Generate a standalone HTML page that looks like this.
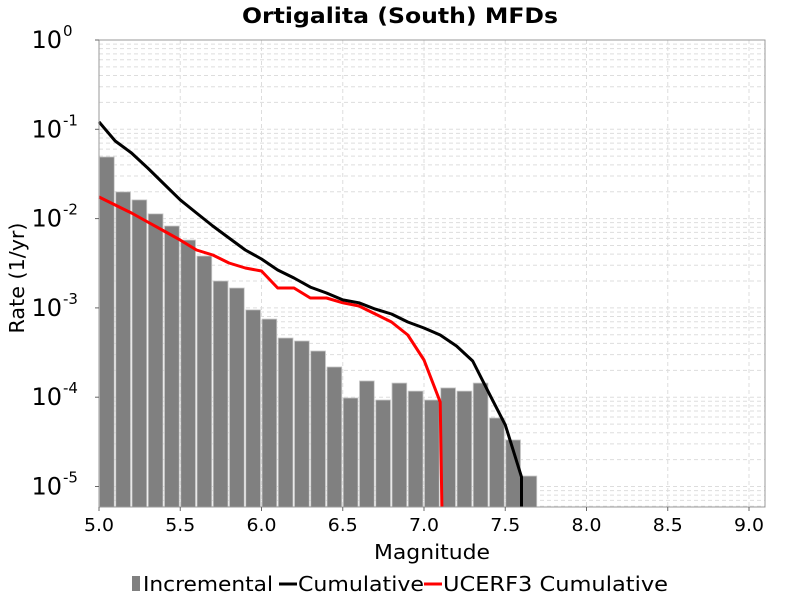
<!DOCTYPE html>
<html><head><meta charset="utf-8"><style>
html,body{margin:0;padding:0;background:#fff;}
svg{display:block;font-family:"DejaVu Sans","Liberation Sans",sans-serif;}
</style></head><body>
<svg id="chart" width="800" height="600" xmlns="http://www.w3.org/2000/svg">
<text x="400" y="23" text-anchor="middle" font-size="21" font-weight="bold" textLength="316" lengthAdjust="spacingAndGlyphs">Ortigalita (South) MFDs</text>
<g id="grid"></g>
<g id="bars"></g>
<g id="lines"></g>
<rect x="99" y="40" width="666" height="467" fill="none" stroke="#999" stroke-width="1"/>
<g id="yticks"></g>
<g id="xticks"></g>
<text x="432" y="559" text-anchor="middle" font-size="20" textLength="116" lengthAdjust="spacingAndGlyphs">Magnitude</text>
<text transform="translate(24,278) rotate(-90)" text-anchor="middle" font-size="20" textLength="111" lengthAdjust="spacingAndGlyphs">Rate (1/yr)</text>
<g>
<g><rect x="132" y="576" width="8" height="15" fill="#808080"/><text x="143" y="591" font-size="20" textLength="130" lengthAdjust="spacingAndGlyphs">Incremental</text></g>
<g><line x1="279" y1="584" x2="297" y2="584" stroke="#000" stroke-width="3"/><text x="298" y="591" font-size="20" textLength="126" lengthAdjust="spacingAndGlyphs">Cumulative</text></g>
<g><line x1="424" y1="584" x2="442" y2="584" stroke="#f00" stroke-width="3"/><text x="443" y="591" font-size="20" textLength="225" lengthAdjust="spacingAndGlyphs">UCERF3 Cumulative</text></g>
</g>
</svg>
<script>
const barMags = [5.0,5.1,5.2,5.3,5.4,5.5,5.6,5.7,5.8,5.9,6.0,6.1,6.2,6.3,6.4,6.5,6.6,6.7,6.8,6.9,7.0,7.1,7.2,7.3,7.4,7.5,7.6];
const incrementalRates = [0.049,0.0199,0.0162,0.0113,0.00826,0.00575,0.00381,0.0020,0.00167,0.00095,0.00075,0.00046,0.000426,0.000329,0.000218,0.000098,0.000152,0.000093,0.000144,0.000117,0.000093,0.000127,0.000117,0.000144,0.0000585,0.0000332,0.0000131];
const cumMags = [5.0,5.1,5.2,5.3,5.4,5.5,5.6,5.7,5.8,5.9,6.0,6.1,6.2,6.3,6.4,6.5,6.6,6.7,6.8,6.9,7.0,7.1,7.2,7.3,7.4,7.5,7.6,7.6];
const cumRates = [0.121,0.074,0.0543,0.0369,0.0244,0.0162,0.01156,0.00826,0.00607,0.00445,0.00353,0.00266,0.00216,0.00171,0.00147,0.00123,0.00114,0.00097,0.000855,0.000695,0.000596,0.000497,0.000374,0.000254,0.000111,0.0000489,0.0000128,1e-9];
const ucerfMags = [5.0,5.1,5.2,5.3,5.4,5.5,5.6,5.7,5.8,5.9,6.0,6.1,6.2,6.3,6.4,6.5,6.6,6.7,6.8,6.9,7.0,7.1,7.11];
const ucerfRates = [0.01746,0.0142,0.01156,0.00916,0.00727,0.00575,0.00445,0.00391,0.00318,0.0028,0.00259,0.00167,0.00167,0.00129,0.00129,0.00114,0.00105,0.000855,0.000695,0.000497,0.000261,0.0000883,1e-9];
const xTickLabels = ["5.0","5.5","6.0","6.5","7.0","7.5","8.0","8.5","9.0"];
const yTickExps = [0,-1,-2,-3,-4,-5];

const NS="http://www.w3.org/2000/svg";
const L=99,R=765,T=40,B=507;
const X0=5.0,XPU=162.5;
const DEC=89.3;
function xs(m){return L+(m-X0)*XPU;}
function ys(v){return Math.min(B, T-Math.log10(v)*DEC);}
function mk(tag,attrs,parent){const e=document.createElementNS(NS,tag);for(const k in attrs)e.setAttribute(k,attrs[k]);parent.appendChild(e);return e;}

const grid=document.getElementById('grid');
for(let d=0; d>=-6; d--){
  for(let k=1;k<=9;k++){
    const y=T-(d+Math.log10(k))*DEC;
    if(y<=T||y>=B) continue;
    const g=mk('line',{x1:L,x2:R,y1:y,y2:y,stroke:'#ddd','stroke-width':1,'stroke-dasharray':'4,3'},grid);
    
    
  }
}
xTickLabels.forEach(t=>{
  const x=xs(parseFloat(t));
  const g=mk('line',{x1:x,x2:x,y1:T,y2:B,stroke:'#ddd','stroke-width':1,'stroke-dasharray':'4,3'},grid);
  
  
});

const bars=document.getElementById('bars');
barMags.forEach((m,i)=>{
  const x=xs(m), y=ys(incrementalRates[i]);
  const r=mk('rect',{x:x+0.5,y:y,width:XPU*0.1-1.5,height:B-y,fill:'#808080',stroke:'#c8c8c8','stroke-width':0.8},bars);
  
  
});

const lines=document.getElementById('lines');
function poly(ms,vs,color,name){
  const pts=ms.map((m,i)=>xs(m).toFixed(1)+','+ys(vs[i]).toFixed(1)).join(' ');
  const p=mk('polyline',{points:pts,fill:'none',stroke:color,'stroke-width':3,'stroke-linejoin':'round'},lines);
  
  
}
poly(ucerfMags,ucerfRates,'#f00','ucerf3-cumulative-line');
poly(cumMags,cumRates,'#000','cumulative-line');

const yt=document.getElementById('yticks');
yTickExps.forEach(e=>{
  const y=T-e*DEC;
  mk('line',{x1:L-4,x2:L,y1:y,y2:y,stroke:'#666'},yt);
  const t=mk('text',{x:L-37,y:y+8,'text-anchor':'end','font-size':24},yt);
  
  
  t.textContent='10';
  const s=mk('text',{x:L-36,y:y-4,'text-anchor':'start','font-size':15},yt);
  
  
  s.textContent=String(e);
});

const xt=document.getElementById('xticks');
xTickLabels.forEach(lbl=>{
  const x=xs(parseFloat(lbl));
  mk('line',{x1:x,x2:x,y1:B,y2:B+4,stroke:'#666'},xt);
  const t=mk('text',{x:x,y:B+24,'text-anchor':'middle','font-size':18,'textLength':30,'lengthAdjust':'spacingAndGlyphs'},xt);
  
  
  t.textContent=lbl;
});
</script>
</body></html>
